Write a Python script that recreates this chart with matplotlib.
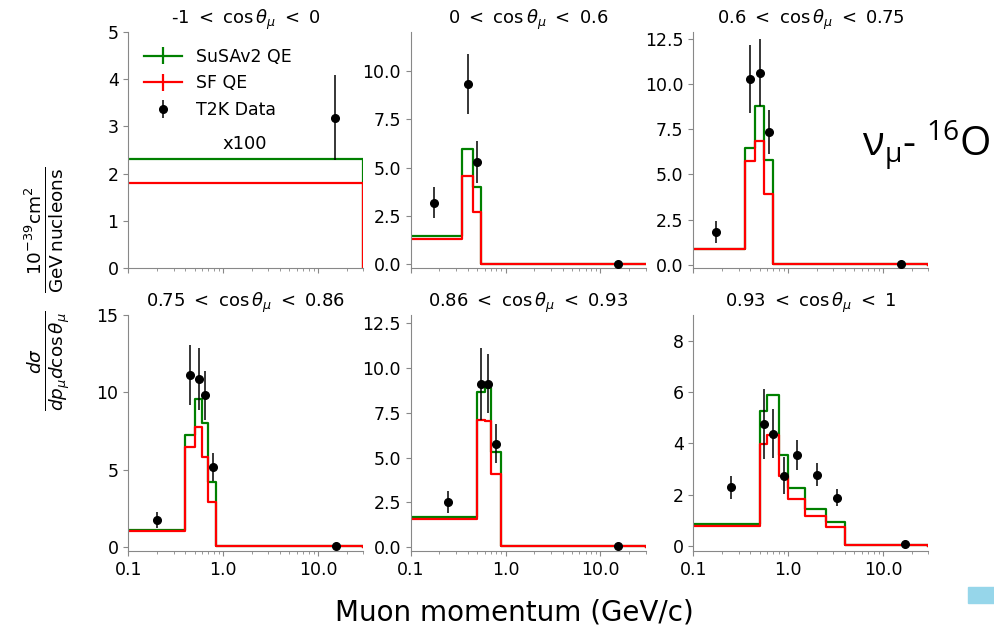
import numpy as np
import matplotlib
matplotlib.use("Agg")
import matplotlib.pyplot as plt
from matplotlib.ticker import FixedLocator, FixedFormatter
from matplotlib.patches import Rectangle

# cos(theta_mu) slices
titles = [
    r"-1 $<$ $\cos\theta_\mu$ $<$ 0",
    r"0 $<$ $\cos\theta_\mu$ $<$ 0.6",
    r"0.6 $<$ $\cos\theta_\mu$ $<$ 0.75",
    r"0.75 $<$ $\cos\theta_\mu$ $<$ 0.86",
    r"0.86 $<$ $\cos\theta_\mu$ $<$ 0.93",
    r"0.93 $<$ $\cos\theta_\mu$ $<$ 1",
]

# momentum bin edges (GeV/c)
edges = [
    [0, 30],
    [0, 0.35, 0.45, 0.55, 30],
    [0, 0.35, 0.45, 0.55, 0.7, 30],
    [0, 0.4, 0.5, 0.6, 0.7, 0.85, 30],
    [0, 0.5, 0.6, 0.7, 0.9, 30],
    [0, 0.5, 0.6, 0.8, 1.0, 1.5, 2.5, 4.0, 30],
]

# models (first slice shown x100)
susav2 = [
    [2.3],
    [1.46, 5.98, 4.01, 0.03],
    [0.88, 6.45, 8.78, 5.8, 0.03],
    [1.1, 7.25, 9.6, 8.0, 4.19, 0.05],
    [1.67, 8.64, 8.88, 5.31, 0.05],
    [0.87, 5.28, 5.89, 3.53, 2.27, 1.46, 0.93, 0.05],
]
sf = [
    [1.8],
    [1.33, 4.57, 2.7, 0.02],
    [0.88, 5.75, 6.84, 3.9, 0.02],
    [1.05, 6.44, 7.75, 5.8, 2.9, 0.04],
    [1.54, 7.08, 7.02, 4.09, 0.04],
    [0.8, 3.99, 4.31, 2.72, 1.85, 1.19, 0.75, 0.04],
]

# T2K data
data_x = [
    [15.0],
    [0.175, 0.4, 0.5, 15.3],
    [0.175, 0.4, 0.5, 0.625, 15.35],
    [0.2, 0.45, 0.55, 0.65, 0.775, 15.4],
    [0.25, 0.55, 0.65, 0.8, 15.45],
    [0.25, 0.55, 0.7, 0.9, 1.25, 2.0, 3.25, 17.0],
]
data_y = [
    [3.18],
    [3.19, 9.31, 5.29, 0.01],
    [1.8, 10.3, 10.65, 7.35, 0.02],
    [1.74, 11.13, 10.87, 9.8, 5.16, 0.05],
    [2.53, 9.12, 9.12, 5.78, 0.07],
    [2.29, 4.75, 4.38, 2.75, 3.56, 2.78, 1.88, 0.09],
]
data_err = [
    [0.9],
    [0.78, 1.57, 1.08, 0.01],
    [0.6, 1.9, 1.88, 1.22, 0.01],
    [0.5, 1.93, 2.0, 1.6, 0.9, 0.02],
    [0.6, 2.0, 1.65, 1.07, 0.02],
    [0.45, 1.35, 0.96, 0.73, 0.58, 0.44, 0.33, 0.02],
]

ylims = [(0, 5), (-0.19, 12.0), (-0.19, 12.9), (-0.26, 15.0), (-0.22, 12.96), (-0.19, 9.0)]

W, H = 995, 630
fig = plt.figure(figsize=(W / 100, H / 100), dpi=100)

col_left = [128.3, 410.7, 693.3]
row_top = [32, 315]
ax_w, ax_h = 235, 236

for i in range(6):
    r, c = divmod(i, 3)
    left = col_left[c] / W
    bottom = 1 - (row_top[r] + ax_h) / H
    ax = fig.add_axes([left, bottom, ax_w / W, ax_h / H])
    ax.set_xscale("log")
    ax.set_xlim(0.1, 30)
    ax.set_ylim(*ylims[i])

    e = np.array(edges[i], dtype=float)
    g = np.append(susav2[i], 0.0)
    s = np.append(sf[i], 0.0)
    ax.errorbar(e, g, yerr=np.zeros_like(g), color="green", lw=1.6,
                drawstyle="steps-post", label="SuSAv2 QE")
    ax.errorbar(e, s, yerr=np.zeros_like(s), color="red", lw=1.6,
                drawstyle="steps-post", label="SF QE")
    ax.errorbar(data_x[i], data_y[i], yerr=data_err[i], fmt="o", color="black",
                ms=5.5, elinewidth=1.1, label="T2K Data", zorder=5)

    ax.set_title(titles[i], fontsize=13, pad=6)
    for sp in ["top", "right"]:
        ax.spines[sp].set_visible(False)
    for sp in ["left", "bottom"]:
        ax.spines[sp].set_color("#888888")
    ax.tick_params(which="both", colors="#888888", labelcolor="black", labelsize=12.5)
    ax.xaxis.set_major_locator(FixedLocator([0.1, 1.0, 10.0]))
    ax.xaxis.set_major_formatter(FixedFormatter(["0.1", "1.0", "10.0"]))
    if r == 0:
        ax.tick_params(axis="x", which="both", labelbottom=False)

    if i == 0:
        ax.text(1.7, 2.63, "x100", fontsize=13, ha="center", va="center")
        ax.legend(loc="upper left", frameon=False, fontsize=12.5,
                  bbox_to_anchor=(0.0, 1.0), handlelength=2.2)

fig.text(0.047, 0.541,
         r"$\frac{d\sigma}{dp_\mu d\cos\theta_\mu}$  $\frac{10^{-39}\mathrm{cm}^2}{\mathrm{GeV\,nucleons}}$",
         rotation=90, ha="center", va="center", fontsize=19)
fig.text(0.517, 0.028, "Muon momentum (GeV/c)", ha="center", va="center", fontsize=20)
fig.text(0.866, 0.77, r"ν$_\mathregular{μ}$- $^\mathregular{16}$O", ha="left", va="center",
         fontsize=29, family="Open Sans")
fig.patches.append(Rectangle((968 / W, 1 - 603 / H), 27 / W, 16 / H,
                             transform=fig.transFigure, color="#96d6ea"))

fig.savefig("out.png", dpi=100)
